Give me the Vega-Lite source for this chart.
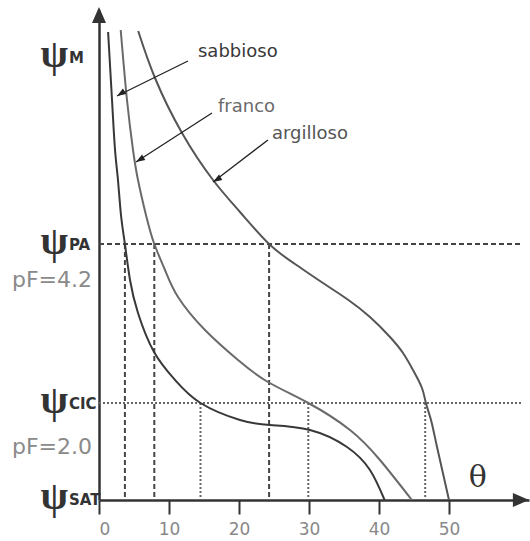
{
  "$schema": "https://vega.github.io/schema/vega-lite/v6.json",
  "width": 430,
  "height": 490,
  "autosize": "none",
  "padding": {"left": 99, "top": 10, "right": 1, "bottom": 41},
  "background": "white",
  "config": {
    "view": {"stroke": null},
    "axisX": {"domainColor": "#333", "domainWidth": 2.5, "tickColor": "#333", "tickWidth": 2, "tickSize": 14, "labelColor": "#888", "labelFontSize": 17, "labelFont": "DejaVu Sans", "labelPadding": 7, "grid": false, "title": null},
    "axisY": {"domainColor": "#333", "domainWidth": 2.5, "ticks": false, "labels": false, "grid": false, "title": null}
  },
  "datasets": {
    "curves": [
      {"soil": "sabbioso", "theta": 1.3, "psi": 468}, {"soil": "sabbioso", "theta": 1.86, "psi": 400}, {"soil": "sabbioso", "theta": 2.29, "psi": 350}, {"soil": "sabbioso", "theta": 2.71, "psi": 320}, {"soil": "sabbioso", "theta": 3.14, "psi": 285}, {"soil": "sabbioso", "theta": 3.7, "psi": 256}, {"soil": "sabbioso", "theta": 4.43, "psi": 220}, {"soil": "sabbioso", "theta": 5.57, "psi": 187}, {"soil": "sabbioso", "theta": 7.86, "psi": 148}, {"soil": "sabbioso", "theta": 10.86, "psi": 120}, {"soil": "sabbioso", "theta": 14.5, "psi": 97}, {"soil": "sabbioso", "theta": 20.14, "psi": 80}, {"soil": "sabbioso", "theta": 24.43, "psi": 75}, {"soil": "sabbioso", "theta": 30.14, "psi": 70}, {"soil": "sabbioso", "theta": 35.43, "psi": 53}, {"soil": "sabbioso", "theta": 38.71, "psi": 30}, {"soil": "sabbioso", "theta": 40.8, "psi": 0},
      {"soil": "franco", "theta": 3.1, "psi": 470}, {"soil": "franco", "theta": 4.0, "psi": 400}, {"soil": "franco", "theta": 4.86, "psi": 350}, {"soil": "franco", "theta": 5.57, "psi": 320}, {"soil": "franco", "theta": 6.71, "psi": 285}, {"soil": "franco", "theta": 7.9, "psi": 256}, {"soil": "franco", "theta": 9.43, "psi": 230}, {"soil": "franco", "theta": 11.29, "psi": 203}, {"soil": "franco", "theta": 15.14, "psi": 170}, {"soil": "franco", "theta": 19.86, "psi": 140}, {"soil": "franco", "theta": 24.14, "psi": 118}, {"soil": "franco", "theta": 29.9, "psi": 97}, {"soil": "franco", "theta": 35.86, "psi": 70}, {"soil": "franco", "theta": 40.14, "psi": 40}, {"soil": "franco", "theta": 44.7, "psi": 0},
      {"soil": "argilloso", "theta": 5.6, "psi": 469}, {"soil": "argilloso", "theta": 8.0, "psi": 422}, {"soil": "argilloso", "theta": 11.86, "psi": 367}, {"soil": "argilloso", "theta": 16.29, "psi": 320}, {"soil": "argilloso", "theta": 20.14, "psi": 288}, {"soil": "argilloso", "theta": 24.3, "psi": 256}, {"soil": "argilloso", "theta": 28.0, "psi": 236}, {"soil": "argilloso", "theta": 32.0, "psi": 217}, {"soil": "argilloso", "theta": 35.43, "psi": 201}, {"soil": "argilloso", "theta": 38.71, "psi": 183}, {"soil": "argilloso", "theta": 41.57, "psi": 163}, {"soil": "argilloso", "theta": 43.43, "psi": 147}, {"soil": "argilloso", "theta": 44.86, "psi": 130}, {"soil": "argilloso", "theta": 46.14, "psi": 112}, {"soil": "argilloso", "theta": 46.7, "psi": 97}, {"soil": "argilloso", "theta": 47.43, "psi": 80}, {"soil": "argilloso", "theta": 48.29, "psi": 53}, {"soil": "argilloso", "theta": 50.0, "psi": 0}
    ],
    "levels": [{"level": "PA", "psi": 256}, {"level": "CIC", "psi": 97}],
    "verticals": [
      {"soil": "sabbioso", "level": "PA", "theta": 3.7, "psi": 256},
      {"soil": "franco", "level": "PA", "theta": 7.9, "psi": 256},
      {"soil": "argilloso", "level": "PA", "theta": 24.3, "psi": 256},
      {"soil": "sabbioso", "level": "CIC", "theta": 14.5, "psi": 97},
      {"soil": "franco", "level": "CIC", "theta": 29.9, "psi": 97},
      {"soil": "argilloso", "level": "CIC", "theta": 46.6, "psi": 97}
    ],
    "arrows": [
      {"soil": "sabbioso", "end": "tail", "theta": 12.71, "psi": 439}, {"soil": "sabbioso", "end": "head", "theta": 2.57, "psi": 404},
      {"soil": "franco", "end": "tail", "theta": 16.14, "psi": 387}, {"soil": "franco", "end": "head", "theta": 5.29, "psi": 338},
      {"soil": "argilloso", "end": "tail", "theta": 24.14, "psi": 360}, {"soil": "argilloso", "end": "head", "theta": 16.29, "psi": 318}
    ],
    "soilLabels": [
      {"soil": "sabbioso", "theta": 14.14, "psi": 448},
      {"soil": "franco", "theta": 17.0, "psi": 393},
      {"soil": "argilloso", "theta": 24.71, "psi": 366}
    ],
    "ylabels": [
      {"sym": "M", "psi": 443}, {"sym": "PA", "psi": 256}, {"sym": "CIC", "psi": 97}, {"sym": "SAT", "psi": 1}
    ],
    "pf": [{"txt": "pF=4.2", "psi": 220}, {"txt": "pF=2.0", "psi": 53}]
  },
  "layer": [
    {
      "data": {"name": "levels"},
      "transform": [{"filter": "datum.level === 'PA'"}],
      "mark": {"type": "rule", "color": "#444", "strokeWidth": 2, "strokeDash": [5, 3]},
      "encoding": {
        "x": {"datum": 0, "type": "quantitative", "scale": {"domain": [0, 61.43], "nice": false, "zero": false}, "axis": {"values": [0, 10, 20, 30, 40, 50], "title": null}},
        "x2": {"datum": 60.3},
        "y": {"field": "psi", "type": "quantitative", "scale": {"domain": [0, 490], "nice": false, "zero": false}, "axis": {"title": null}}
      }
    },
    {
      "data": {"name": "levels"},
      "transform": [{"filter": "datum.level === 'CIC'"}],
      "mark": {"type": "rule", "color": "#666", "strokeWidth": 2, "strokeDash": [2, 2]},
      "encoding": {
        "x": {"datum": 0, "type": "quantitative"},
        "x2": {"datum": 60.3},
        "y": {"field": "psi", "type": "quantitative"}
      }
    },
    {
      "data": {"name": "verticals"},
      "transform": [{"filter": "datum.level === 'PA'"}],
      "mark": {"type": "rule", "color": "#444", "strokeWidth": 2, "strokeDash": [5, 3]},
      "encoding": {
        "x": {"field": "theta", "type": "quantitative"},
        "y": {"field": "psi", "type": "quantitative"},
        "y2": {"datum": 0}
      }
    },
    {
      "data": {"name": "verticals"},
      "transform": [{"filter": "datum.level === 'CIC'"}],
      "mark": {"type": "rule", "color": "#666", "strokeWidth": 2, "strokeDash": [2, 2]},
      "encoding": {
        "x": {"field": "theta", "type": "quantitative"},
        "y": {"field": "psi", "type": "quantitative"},
        "y2": {"datum": 0}
      }
    },
    {
      "data": {"name": "curves"},
      "mark": {"type": "line", "strokeWidth": 2, "interpolate": "natural"},
      "encoding": {
        "x": {"field": "theta", "type": "quantitative"},
        "y": {"field": "psi", "type": "quantitative"},
        "detail": {"field": "soil"},
        "color": {"field": "soil", "type": "nominal", "scale": {"domain": ["sabbioso", "franco", "argilloso"], "range": ["#383838", "#6a6a6a", "#555555"]}, "legend": null}
      }
    },
    {
      "data": {"name": "arrows"},
      "mark": {"type": "line", "color": "#222", "strokeWidth": 1.3},
      "encoding": {
        "x": {"field": "theta", "type": "quantitative"},
        "y": {"field": "psi", "type": "quantitative"},
        "detail": {"field": "soil"}
      }
    },
    {
      "data": {"name": "arrows"},
      "transform": [{"filter": "datum.end === 'head'"}],
      "mark": {"type": "point", "shape": "M0,0L-0.7,2L0.7,2Z", "filled": true, "color": "#222", "opacity": 1, "size": 81, "angle": 238, "strokeWidth": 0},
      "encoding": {
        "x": {"field": "theta", "type": "quantitative"},
        "y": {"field": "psi", "type": "quantitative"}
      }
    },
    {
      "data": {"values": [{}]},
      "mark": {"type": "point", "shape": "M0,0L-1,2.3L1,2.3Z", "filled": true, "color": "#333", "opacity": 1, "size": 196, "angle": 0, "strokeWidth": 0},
      "encoding": {
        "x": {"datum": 0, "type": "quantitative"},
        "y": {"datum": 493, "type": "quantitative"}
      }
    },
    {
      "data": {"values": [{}]},
      "mark": {"type": "point", "shape": "M0,0L-1,2.3L1,2.3Z", "filled": true, "color": "#333", "opacity": 1, "size": 196, "angle": 90, "strokeWidth": 0},
      "encoding": {
        "x": {"datum": 61.43, "type": "quantitative"},
        "y": {"datum": 0, "type": "quantitative"}
      }
    },
    {
      "data": {"name": "soilLabels"},
      "mark": {"type": "text", "align": "left", "baseline": "middle", "font": "DejaVu Sans", "fontSize": 18},
      "encoding": {
        "x": {"field": "theta", "type": "quantitative"},
        "y": {"field": "psi", "type": "quantitative"},
        "text": {"field": "soil"},
        "color": {"field": "soil", "type": "nominal", "legend": null}
      }
    },
    {
      "data": {"name": "ylabels"},
      "mark": {"type": "text", "align": "right", "baseline": "middle", "font": "Liberation Serif", "fontSize": 40, "fontWeight": "bold", "color": "#333", "dy": -2},
      "encoding": {
        "x": {"datum": -4.43, "type": "quantitative"},
        "y": {"field": "psi", "type": "quantitative"},
        "text": {"value": "ψ"}
      }
    },
    {
      "data": {"name": "ylabels"},
      "mark": {"type": "text", "align": "left", "baseline": "middle", "font": "DejaVu Sans", "fontSize": 15, "fontWeight": "bold", "color": "#333", "dy": 1},
      "encoding": {
        "x": {"datum": -4.29, "type": "quantitative"},
        "y": {"field": "psi", "type": "quantitative"},
        "text": {"field": "sym"}
      }
    },
    {
      "data": {"name": "pf"},
      "mark": {"type": "text", "align": "right", "baseline": "middle", "font": "DejaVu Sans", "fontSize": 22, "color": "#8a8a8a"},
      "encoding": {
        "x": {"datum": -1.0, "type": "quantitative"},
        "y": {"field": "psi", "type": "quantitative"},
        "text": {"field": "txt"}
      }
    },
    {
      "data": {"values": [{"label": "θ"}]},
      "mark": {"type": "text", "align": "center", "baseline": "middle", "font": "DejaVu Serif", "fontSize": 30, "color": "#333"},
      "encoding": {
        "x": {"datum": 54.1, "type": "quantitative"},
        "y": {"datum": 22, "type": "quantitative"},
        "text": {"field": "label"}
      }
    }
  ]
}
